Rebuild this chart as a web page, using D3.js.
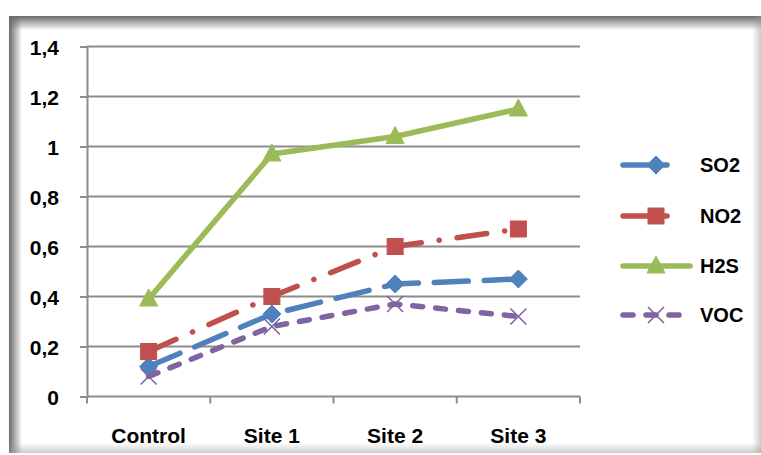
<!DOCTYPE html>
<html>
<head>
<meta charset="utf-8">
<script src="https://cdn.jsdelivr.net/npm/d3@7"></script>
<style>
  html, body { margin: 0; padding: 0; background: #fff; }
  svg { display: block; }
  text { font-family: "Liberation Sans", Arial, sans-serif; font-weight: bold; fill: #000; }
</style>
</head>
<body>
<svg id="chart" width="761" height="455"></svg>
<script>
// Categories along the x axis
const categories = ["Control", "Site 1", "Site 2", "Site 3"];
// Measured concentrations per site
const so2 = [0.12, 0.33, 0.45, 0.47];
const no2 = [0.18, 0.40, 0.60, 0.67];
const h2s = [0.39, 0.97, 1.04, 1.15];
const voc = [0.08, 0.28, 0.37, 0.32];
// Y-axis ticks and their labels (decimal comma)
const yTicks = [0, 0.2, 0.4, 0.6, 0.8, 1, 1.2, 1.4];
const yTickLabels = ["0", "0,2", "0,4", "0,6", "0,8", "1", "1,2", "1,4"];

const series = [
  { name: "SO2", values: so2, color: "#4F81BD", dash: "34,16", legendDash: "44,60", marker: "diamond" },
  { name: "NO2", values: no2, color: "#C0504D", dash: "30,18,0.1,18", legendDash: "44,60", marker: "square" },
  { name: "H2S", values: h2s, color: "#9BBB59", dash: null, legendDash: null, marker: "triangle" },
  { name: "VOC", values: voc, color: "#8064A2", dash: "10,13", legendDash: "10,13", marker: "cross" }
];

const svg = d3.select("#chart");
const defs = svg.append("defs");

// Frame with soft inner shading along the edges
const frame = { x: 9, y: 16, w: 752, h: 437 };
svg.append("rect").attr("x", frame.x).attr("y", frame.y)
  .attr("width", frame.w).attr("height", frame.h).attr("fill", "#fff");

function grad(id, x1, y1, x2, y2, c0, o0) {
  const g = defs.append("linearGradient").attr("id", id)
    .attr("x1", x1).attr("y1", y1).attr("x2", x2).attr("y2", y2);
  g.append("stop").attr("offset", "0%").attr("stop-color", c0).attr("stop-opacity", o0);
  g.append("stop").attr("offset", "100%").attr("stop-color", c0).attr("stop-opacity", 0);
}
grad("gTop", 0, 0, 0, 1, "#6a6a6a", 1);
grad("gLeft", 0, 0, 1, 0, "#6a6a6a", 1);
grad("gRight", 1, 0, 0, 0, "#9a9a9a", 0.5);
grad("gBottom", 0, 1, 0, 0, "#9a9a9a", 0.5);

svg.append("rect").attr("x", frame.x).attr("y", frame.y).attr("width", frame.w).attr("height", 14).attr("fill", "url(#gTop)");
svg.append("rect").attr("x", frame.x).attr("y", frame.y).attr("width", 13).attr("height", frame.h).attr("fill", "url(#gLeft)");
svg.append("rect").attr("x", 752).attr("y", frame.y).attr("width", 9).attr("height", frame.h).attr("fill", "url(#gRight)");
svg.append("rect").attr("x", frame.x).attr("y", 443).attr("width", frame.w).attr("height", 10).attr("fill", "url(#gBottom)");

// Plot area
const plot = { left: 87, right: 580, top: 46.5, bottom: 396.5 };

const x = d3.scaleBand().domain(categories).range([plot.left, plot.right]).padding(0);
const y = d3.scaleLinear().domain([0, 1.4]).range([plot.bottom, plot.top]);
const cx = c => x(c) + x.bandwidth() / 2;

const axisColor = "#8c8c8c";

// Horizontal gridlines
svg.append("g").selectAll("line").data(yTicks.filter(t => t > 0)).join("line")
  .attr("x1", plot.left).attr("x2", plot.right)
  .attr("y1", d => y(d)).attr("y2", d => y(d))
  .attr("stroke", axisColor).attr("stroke-width", 2);

// Y axis
const yAxis = d3.axisLeft(y).tickValues(yTicks)
  .tickFormat((d, i) => yTickLabels[i]).tickSize(7).tickPadding(21);
const gy = svg.append("g").attr("transform", `translate(${plot.left},0)`).call(yAxis);
gy.select(".domain").attr("stroke", axisColor).attr("stroke-width", 2);
gy.selectAll(".tick line").attr("stroke", axisColor).attr("stroke-width", 2);
gy.selectAll(".tick text").attr("font-size", 21).attr("font-family", null).attr("dy", "0.4em");

// X axis with ticks on category boundaries
const gx = svg.append("g").attr("transform", `translate(0,${plot.bottom})`);
gx.append("line").attr("x1", plot.left).attr("x2", plot.right)
  .attr("stroke", axisColor).attr("stroke-width", 2);
const boundaries = categories.map(c => x(c)).concat([x(categories[categories.length - 1]) + x.bandwidth()]);
gx.selectAll("line.tk").data(boundaries).join("line").attr("class", "tk")
  .attr("x1", d => d).attr("x2", d => d).attr("y1", 0).attr("y2", 7)
  .attr("stroke", axisColor).attr("stroke-width", 2);
gx.selectAll("text").data(categories).join("text")
  .attr("x", d => cx(d)).attr("y", 46)
  .attr("text-anchor", "middle").attr("font-size", 21).text(d => d);

// Marker shapes
function drawMarker(g, type, color, px, py) {
  if (type === "diamond") {
    g.append("path").attr("d", `M${px},${py - 9}L${px + 9},${py}L${px},${py + 9}L${px - 9},${py}Z`)
      .attr("fill", color).attr("stroke", color).attr("stroke-width", 1);
  } else if (type === "square") {
    g.append("rect").attr("x", px - 8).attr("y", py - 8).attr("width", 16).attr("height", 16)
      .attr("fill", color).attr("stroke", color).attr("stroke-width", 1);
  } else if (type === "triangle") {
    g.append("path").attr("d", `M${px},${py - 10}L${px + 9},${py + 7}L${px - 9},${py + 7}Z`)
      .attr("fill", color).attr("stroke", color).attr("stroke-width", 1);
  } else if (type === "cross") {
    g.append("path").attr("d", `M${px - 8},${py - 8}L${px + 8},${py + 8}M${px + 8},${py - 8}L${px - 8},${py + 8}`)
      .attr("stroke", color).attr("stroke-width", 1.6).attr("fill", "none");
  }
}

const line = d3.line().x((d, i) => cx(categories[i])).y(d => y(d));

const gs = svg.append("g");
series.forEach(s => {
  const g = gs.append("g");
  g.append("path").datum(s.values).attr("d", line)
    .attr("fill", "none").attr("stroke", s.color).attr("stroke-width", 5.5)
    .attr("stroke-linecap", "round").attr("stroke-linejoin", "round")
    .attr("stroke-dasharray", s.dash);
  s.values.forEach((v, i) => drawMarker(g, s.marker, s.color, cx(categories[i]), y(v)));
});

// Legend
const legend = svg.append("g");
const legendY = [165, 216, 266, 315];
series.forEach((s, i) => {
  const ly = legendY[i];
  const g = legend.append("g");
  g.append("line").attr("x1", 623).attr("x2", 690).attr("y1", ly).attr("y2", ly)
    .attr("stroke", s.color).attr("stroke-width", 5.5).attr("stroke-linecap", "round")
    .attr("stroke-dasharray", s.legendDash);
  drawMarker(g, s.marker, s.color, 656, ly);
  g.append("text").attr("x", 700).attr("y", ly).attr("dy", "0.36em")
    .attr("font-size", 20).text(s.name);
});
</script>
</body>
</html>
